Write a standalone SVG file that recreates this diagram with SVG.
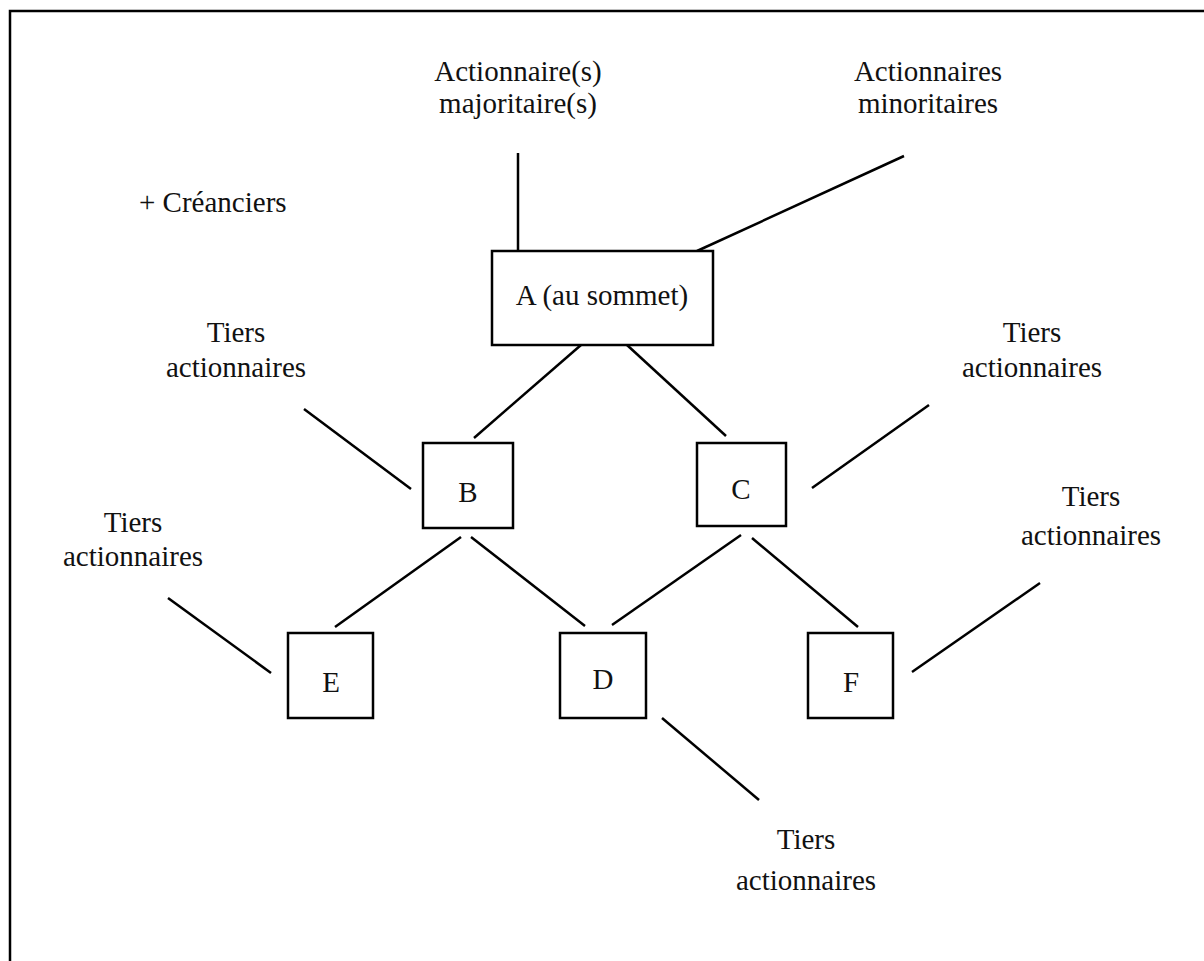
<svg xmlns="http://www.w3.org/2000/svg" width="1204" height="961" viewBox="0 0 1204 961">
<style>
.t{font-family:"Liberation Serif","Times New Roman",serif;font-size:29px;fill:#111;text-anchor:middle}
.b{fill:#fff;stroke:#000;stroke-width:2.5}
.c line{stroke:#000;stroke-width:2.5}
</style>
<rect x="0" y="0" width="1204" height="961" fill="#fff"/>
<rect x="10" y="11" width="1400" height="1200" fill="none" stroke="#000" stroke-width="2.5"/>
<g id="connectors" class="c">
<line x1="518" y1="153" x2="518" y2="251"/>
<line x1="697" y1="251" x2="904" y2="156"/>
<line x1="581" y1="345" x2="474" y2="438"/>
<line x1="627" y1="345" x2="726" y2="436"/>
<line x1="304" y1="409" x2="411" y2="489"/>
<line x1="812" y1="488" x2="929" y2="405"/>
<line x1="461" y1="537" x2="335" y2="627"/>
<line x1="471" y1="537" x2="585" y2="626"/>
<line x1="741" y1="535" x2="612" y2="625"/>
<line x1="752" y1="538" x2="858" y2="627"/>
<line x1="168" y1="598" x2="271" y2="673"/>
<line x1="662" y1="718" x2="759" y2="800"/>
<line x1="912" y1="672" x2="1040" y2="583"/>
</g>
<g id="nodeA"><rect class="b" x="492" y="251" width="221" height="94"/><text class="t" x="602" y="305">A (au sommet)</text></g>
<g id="nodeB"><rect class="b" x="423" y="443" width="90" height="85"/><text class="t" x="468" y="502">B</text></g>
<g id="nodeC"><rect class="b" x="697" y="443" width="89" height="83"/><text class="t" x="741" y="499">C</text></g>
<g id="nodeE"><rect class="b" x="288" y="633" width="85" height="85"/><text class="t" x="331" y="692">E</text></g>
<g id="nodeD"><rect class="b" x="560" y="633" width="86" height="85"/><text class="t" x="603" y="689">D</text></g>
<g id="nodeF"><rect class="b" x="808" y="633" width="85" height="85"/><text class="t" x="851" y="692">F</text></g>
<g id="label-majoritaires"><text class="t" x="518" y="81">Actionnaire(s)</text><text class="t" x="518" y="113">majoritaire(s)</text></g>
<g id="label-minoritaires"><text class="t" x="928" y="81">Actionnaires</text><text class="t" x="928" y="113">minoritaires</text></g>
<g id="label-creanciers"><text class="t" x="139" y="212" style="text-anchor:start">+ Créanciers</text></g>
<g id="label-tiers-B"><text class="t" x="236" y="342">Tiers</text><text class="t" x="236" y="377">actionnaires</text></g>
<g id="label-tiers-C"><text class="t" x="1032" y="342">Tiers</text><text class="t" x="1032" y="377">actionnaires</text></g>
<g id="label-tiers-E"><text class="t" x="133" y="532">Tiers</text><text class="t" x="133" y="566">actionnaires</text></g>
<g id="label-tiers-F"><text class="t" x="1091" y="506">Tiers</text><text class="t" x="1091" y="545">actionnaires</text></g>
<g id="label-tiers-D"><text class="t" x="806" y="849">Tiers</text><text class="t" x="806" y="890">actionnaires</text></g>
</svg>
